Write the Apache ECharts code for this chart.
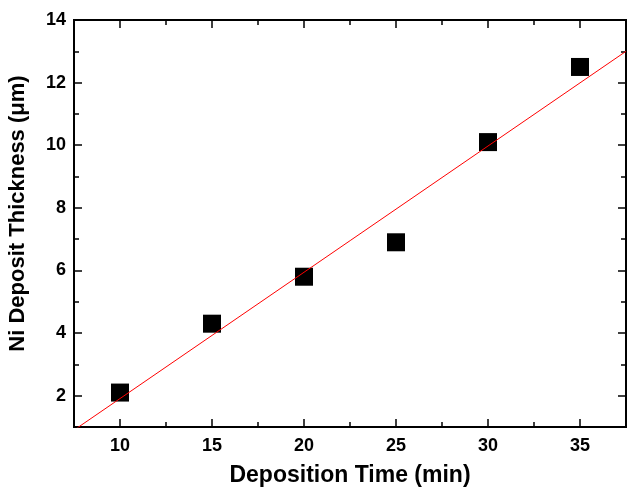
<!DOCTYPE html>
<html>
<head>
<meta charset="utf-8">
<script src="https://cdn.jsdelivr.net/npm/echarts@6/dist/echarts.min.js"></script>
<style>
  html, body { margin: 0; padding: 0; background: #fff; }
  #chart { width: 627px; height: 490px; }
</style>
</head>
<body>
<div id="chart"></div>
<script>
// measured points
const depositionTime = [10, 15, 20, 25, 30, 35];
const thickness = [2.1, 4.3, 5.8, 6.9, 10.1, 12.5];

// red linear fit, end points
const fitX = [7.5, 37.5];
const fitY = [0.9, 13.0];

// ticks
const xMajor = [10, 15, 20, 25, 30, 35];
const xMinor = [7.5, 12.5, 17.5, 22.5, 27.5, 32.5, 37.5];
const yMajor = [2, 4, 6, 8, 10, 12, 14];
const yMinor = [1, 3, 5, 7, 9, 11, 13];

const chart = echarts.init(document.getElementById("chart"));

const font = "Liberation Sans";
const black = "#000";

// one axis per tick set, all stacked on the same grid to get the closed box
function xAx(pos, ticks, len, labels) {
  return {
    type: "value",
    position: pos,
    min: 7.5,
    max: 37.5,
    axisLine: { show: true, onZero: false, lineStyle: { color: black, width: 2 } },
    axisTick: { show: true, inside: true, length: len, customValues: ticks, lineStyle: { color: black, width: 1.5 } },
    axisLabel: labels
      ? { show: true, customValues: xMajor, color: black, fontFamily: font, fontWeight: "bold", fontSize: 18, margin: 10 }
      : { show: false },
    splitLine: { show: false },
  };
}

function yAx(pos, ticks, len, labels) {
  return {
    type: "value",
    position: pos,
    min: 1,
    max: 14,
    axisLine: { show: true, onZero: false, lineStyle: { color: black, width: 2 } },
    axisTick: { show: true, inside: true, length: len, customValues: ticks, lineStyle: { color: black, width: 1.5 } },
    axisLabel: labels
      ? { show: true, customValues: yMajor, color: black, fontFamily: font, fontWeight: "bold", fontSize: 18, margin: 8 }
      : { show: false },
    splitLine: { show: false },
  };
}

const xAxes = [
  xAx("bottom", xMajor, 8, true),
  xAx("bottom", xMinor, 5, false),
  xAx("top", xMajor, 8, false),
  xAx("top", xMinor, 5, false),
];
xAxes[0].name = "Deposition Time (min)";
xAxes[0].nameLocation = "middle";
xAxes[0].nameGap = 37;
xAxes[0].nameTextStyle = { color: black, fontFamily: font, fontWeight: "bold", fontSize: 23 };

const yAxes = [
  yAx("left", yMajor, 8, true),
  yAx("left", yMinor, 5, false),
  yAx("right", yMajor, 8, false),
  yAx("right", yMinor, 5, false),
];
yAxes[0].name = "Ni Deposit Thickness (\u03bcm)";
yAxes[0].nameLocation = "middle";
yAxes[0].nameGap = 45;
yAxes[0].nameTextStyle = { color: black, fontFamily: font, fontWeight: "bold", fontSize: 22, padding: [0, 0, 0, 20] };

const option = {
  animation: false,
  backgroundColor: "#fff",
  grid: { left: 74, right: 1, top: 20, bottom: 63, containLabel: false, outerBoundsMode: "none" },
  xAxis: xAxes,
  yAxis: yAxes,
  series: [
    {
      name: "Fit",
      type: "line",
      data: fitX.map((x, i) => [x, fitY[i]]),
      symbol: "none",
      lineStyle: { color: "#ff0000", width: 1 },
      clip: true,
      z: 3,
    },
    {
      name: "Thickness",
      type: "scatter",
      data: depositionTime.map((x, i) => [x, thickness[i]]),
      symbol: "rect",
      symbolSize: 18,
      itemStyle: { color: black, opacity: 1 },
      z: 2,
    },
  ],
};

chart.setOption(option);
</script>
</body>
</html>
